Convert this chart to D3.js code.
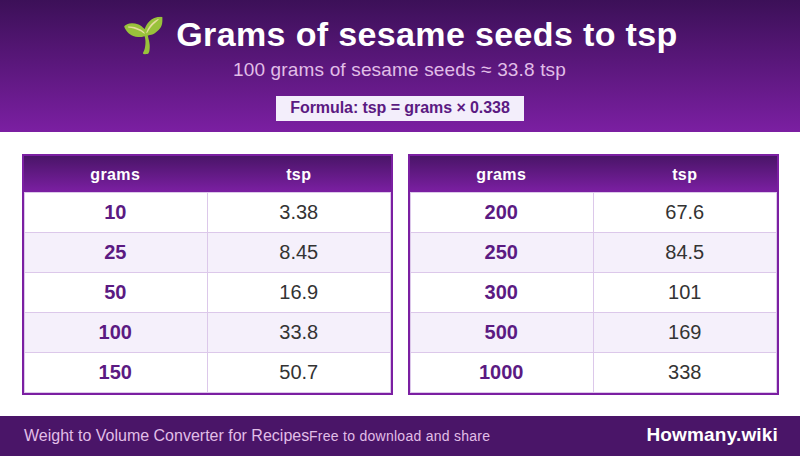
<!DOCTYPE html>
<html>
<head>
<meta charset="utf-8">
<title>Grams of sesame seeds to tsp</title>
<script src="https://cdn.jsdelivr.net/npm/d3@7"></script>
<style>
html, body { margin: 0; padding: 0; background: #fff; }
svg { display: block; }
text { font-family: "Liberation Sans", Arial, sans-serif; text-rendering: optimizeSpeed; }
</style>
</head>
<body>
<svg id="chart-container" width="800" height="456"></svg>
<script>
// table contents
var columns = ["grams", "tsp"];
var gramsLeft = ["10", "25", "50", "100", "150"];
var tspLeft = ["3.38", "8.45", "16.9", "33.8", "50.7"];
var gramsRight = ["200", "250", "300", "500", "1000"];
var tspRight = ["67.6", "84.5", "101", "169", "338"];

var titleText = "Grams of sesame seeds to tsp";
var subtitleText = "100 grams of sesame seeds \u2248 33.8 tsp";
var formulaText = "Formula: tsp = grams \u00d7 0.338";
var footerLeft = "Weight to Volume Converter for Recipes";
var footerMiddle = "Free to download and share";
var footerRight = "Howmany.wiki";

var svg = d3.select("#chart-container");
var purple = "#7b1fa2", deep = "#4a1568", ink = "#5b1a82", rule = "#dcc8ea";

var defs = svg.append("defs");
function gradient(id, from, to) {
    var g = defs.append("linearGradient").attr("id", id)
        .attr("x1", 0).attr("y1", 0).attr("x2", 0).attr("y2", 1);
    g.append("stop").attr("offset", "0%").attr("stop-color", from);
    g.append("stop").attr("offset", "100%").attr("stop-color", to);
}
gradient("head-grad", "#3c1058", purple);
gradient("thead-grad", deep, purple);

// Header band
svg.append("rect").attr("width", 800).attr("height", 132).attr("fill", "url(#head-grad)");
svg.append("rect").attr("x", 276).attr("y", 96).attr("width", 248).attr("height", 25).attr("fill", "#f3eefb");

var header = svg.append("g").attr("text-anchor", "middle");
header.append("text").attr("x", 144).attr("y", 47)
    .attr("font-size", 35)
    .style("font-family", "'Noto Color Emoji', 'Liberation Sans'")
    .text("\ud83c\udf31");
header.append("text").attr("x", 427).attr("y", 46)
    .attr("font-size", 34).attr("font-weight", 700).attr("fill", "#fff")
    .attr("letter-spacing", 0.36)
    .text(titleText);
header.append("text").attr("x", 399.5).attr("y", 76)
    .attr("font-size", 19).attr("fill", "#e1bee7")
    .attr("letter-spacing", 0.16)
    .text(subtitleText);
header.append("text").attr("x", 400).attr("y", 113)
    .attr("font-size", 16).attr("font-weight", 700).attr("fill", ink)
    .attr("letter-spacing", -0.07)
    .text(formulaText);

// Tables
function drawTable(left, grams, tsp) {
    var top = 156, headH = 36, width = 367;
    var x = d3.scaleBand().domain(columns).range([left, left + width]);
    var y = d3.scaleBand().domain(grams).range([top + headH, top + headH + 200]);
    var g = svg.append("g");

    g.append("rect").attr("x", left).attr("y", top).attr("width", width).attr("height", headH)
        .attr("fill", "url(#thead-grad)");

    g.selectAll(".th").data(columns).join("text")
        .attr("x", d => x(d) + x.bandwidth() / 2 - 0.5)
        .attr("y", top + headH / 2 + 5.5)
        .attr("text-anchor", "middle")
        .attr("font-size", 16).attr("font-weight", 700).attr("fill", "#fff")
        .attr("letter-spacing", 0.4)
        .text(d => d);

    var rows = g.selectAll(".row").data(grams).join("g");
    rows.append("rect")
        .attr("x", left).attr("y", d => y(d))
        .attr("width", width).attr("height", y.bandwidth() + 1)
        .attr("fill", (d, i) => i % 2 ? "#f5f0fb" : "#fff");
    rows.append("line")
        .attr("x1", left).attr("x2", left + width)
        .attr("y1", d => y(d) + 0.5).attr("y2", d => y(d) + 0.5)
        .attr("stroke", rule);
    rows.append("text")
        .attr("x", x("grams") + x.bandwidth() / 2 - 0.5)
        .attr("y", d => y(d) + 27)
        .attr("text-anchor", "middle")
        .attr("font-size", 20).attr("font-weight", 700).attr("fill", ink)
        .text(d => d);
    rows.append("text")
        .attr("x", x("tsp") + x.bandwidth() / 2 - 0.5)
        .attr("y", d => y(d) + 27)
        .attr("text-anchor", "middle")
        .attr("font-size", 20).attr("fill", "#333")
        .text((d, i) => tsp[i]);

    g.append("line")
        .attr("x1", x("tsp")).attr("x2", x("tsp"))
        .attr("y1", top + headH).attr("y2", top + headH + 201)
        .attr("stroke", rule);
    // inner edge plus outer border
    g.append("rect").attr("x", left + 0.5).attr("y", top + headH + 0.5)
        .attr("width", width - 1).attr("height", 200)
        .attr("fill", "none").attr("stroke", rule);
    g.append("rect").attr("x", left - 1).attr("y", top - 1)
        .attr("width", width + 2).attr("height", headH + 203)
        .attr("fill", "none").attr("stroke", purple).attr("stroke-width", 2);
}
drawTable(24, gramsLeft, tspLeft);
drawTable(410, gramsRight, tspRight);

// Footer band
svg.append("rect").attr("y", 416).attr("width", 800).attr("height", 40).attr("fill", deep);
svg.append("text").attr("x", 24).attr("y", 441)
    .attr("font-size", 16).attr("fill", "#e1bee7").text(footerLeft);
svg.append("text").attr("x", 309).attr("y", 441)
    .attr("font-size", 14).attr("fill", "#e1bee7")
    .attr("letter-spacing", 0.27)
    .text(footerMiddle);
svg.append("text").attr("x", 778).attr("y", 441)
    .attr("text-anchor", "end")
    .attr("font-size", 19).attr("font-weight", 700).attr("fill", "#fff")
    .attr("letter-spacing", 0.17)
    .text(footerRight);
</script>
</body>
</html>
